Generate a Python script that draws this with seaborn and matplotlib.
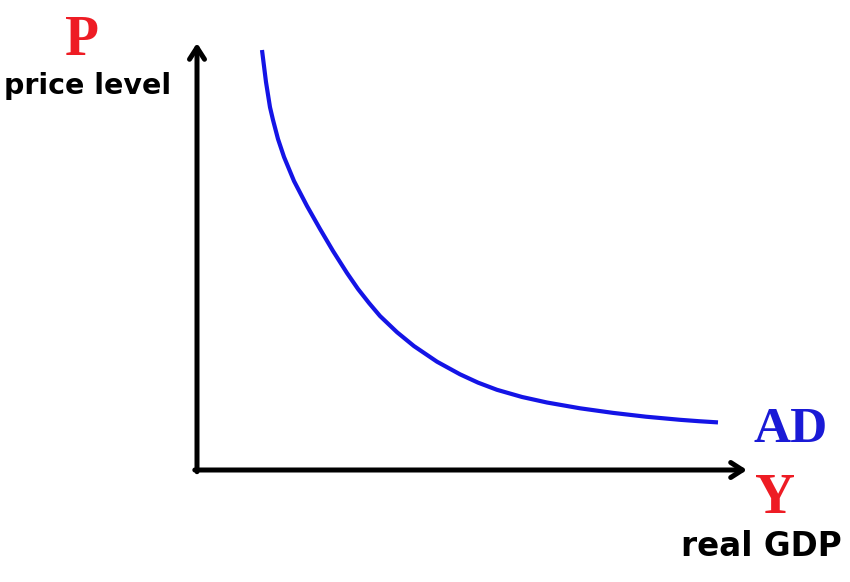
import matplotlib
matplotlib.use("Agg")
import matplotlib.pyplot as plt
import seaborn as sns
import pandas as pd

# Data: aggregate demand curve (real GDP vs price level)
real_gdp = [1.186, 1.259, 1.332, 1.387, 1.478, 1.588, 1.770, 2.007, 2.245,
            2.482, 2.737, 2.938, 3.139, 3.339, 3.650, 3.960, 4.380, 4.799,
            5.128, 5.474, 5.931, 6.387, 6.989, 7.591, 8.193, 8.814, 9.161,
            9.507]
price_level = [9.882, 9.129, 8.536, 8.235, 7.788, 7.365, 6.800, 6.212, 5.671,
               5.153, 4.635, 4.259, 3.929, 3.624, 3.242, 2.915, 2.548, 2.252,
               2.056, 1.887, 1.718, 1.588, 1.452, 1.344, 1.254, 1.181, 1.148,
               1.120]
df = pd.DataFrame({"Y": real_gdp, "P": price_level})

sns.set_theme(style="white")

W, H = 850, 582
fig = plt.figure(figsize=(8.5, 5.82), dpi=100)
ox, oy = 197, 470
xt, yt = 747, 43
ax = fig.add_axes([ox / W, 1 - oy / H, (xt - ox) / W, (oy - yt) / H])
ax.set_xlim(0, 10 * (xt - ox) / 548)
ax.set_ylim(0, 10 * (oy - yt) / 425)
ax.set_axis_off()

sns.lineplot(data=df, x="Y", y="P", ax=ax, color="#1414e6", linewidth=3.0,
             sort=False, estimator=None, solid_joinstyle="round",
             solid_capstyle="butt")

for tip in [(0, 1), (1, 0)]:
    start = (0, -0.004) if tip == (0, 1) else (-0.004, 0)
    ax.annotate("", xy=tip, xytext=start, xycoords="axes fraction",
                arrowprops=dict(arrowstyle="->,head_length=0.7,head_width=0.45",
                                color="black", lw=3.6, shrinkA=0, shrinkB=0))

red = "#ee1c24"
blue = "#1a1ad6"
serif = ["Liberation Serif", "DejaVu Serif"]
sans = ["DejaVu Sans"]

def ftext(x, y, s, **kw):
    fig.text(x / W, 1 - y / H, s, **kw)

ftext(82, 41, "P", color=red, fontsize=40, fontweight="bold", family=serif,
      ha="center", va="center")
ftext(88, 86, "price level", color="black", fontsize=20.5, fontweight="bold",
      family=sans, ha="center", va="center")
ftext(791, 430, "AD", color=blue, fontsize=37, fontweight="bold", family=serif,
      ha="center", va="center")
ftext(775, 499, "Y", color=red, fontsize=40, fontweight="bold", family=serif,
      ha="center", va="center")
ftext(761, 547, "real GDP", color="black", fontsize=23.5, fontweight="bold",
      family=sans, ha="center", va="center")

fig.savefig("out.png", dpi=100, facecolor="white")
